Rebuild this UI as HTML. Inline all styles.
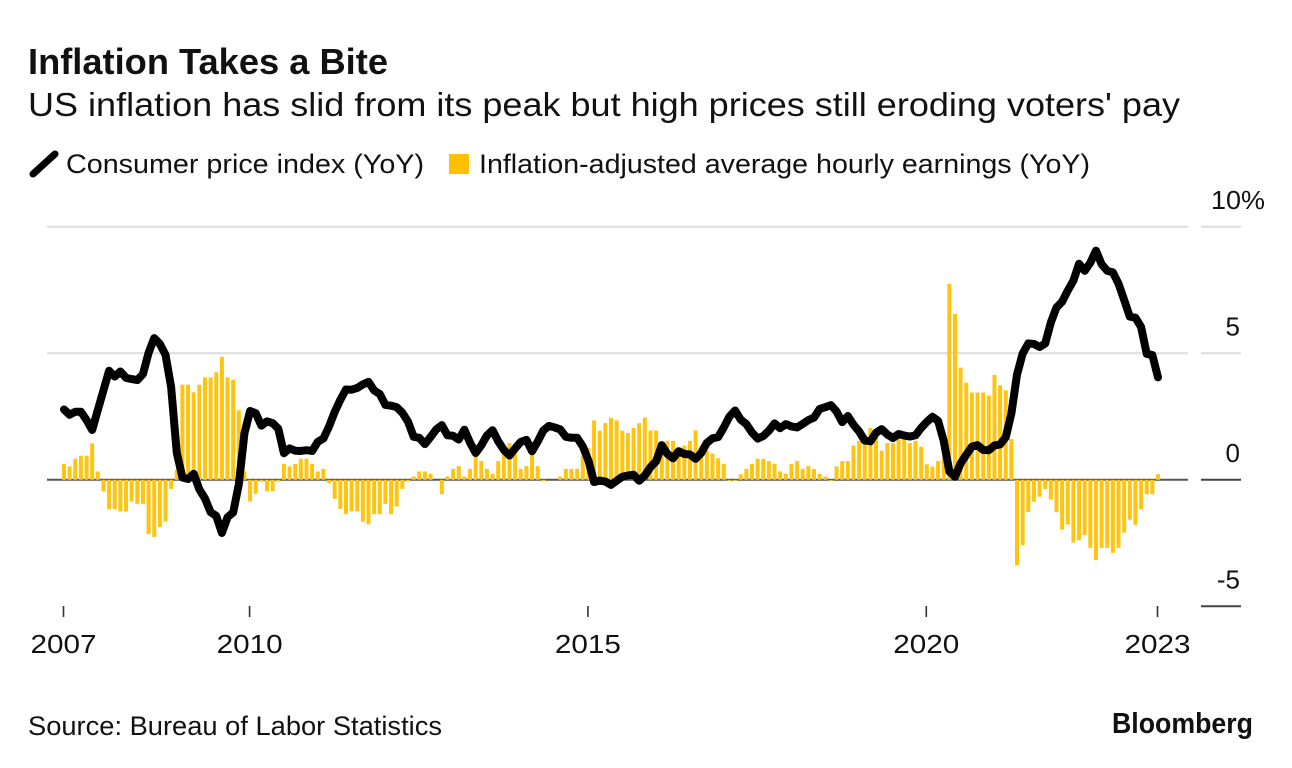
<!DOCTYPE html>
<html lang="en">
<head>
<meta charset="utf-8">
<title>Inflation Takes a Bite</title>
<style>
html,body{margin:0;padding:0;background:#fff;}
svg{display:block;font-family:"Liberation Sans",sans-serif;}
text{fill:#111;}
</style>
</head>
<body>
<svg id="chart" width="1292" height="768" viewBox="0 0 1292 768" xmlns="http://www.w3.org/2000/svg">
  <rect x="0" y="0" width="1292" height="768" fill="#fff"/>
  <text x="28" y="74" font-size="36" font-weight="700" textLength="360" lengthAdjust="spacingAndGlyphs">Inflation Takes a Bite</text>
  <text x="28" y="116" font-size="33" textLength="1152" lengthAdjust="spacingAndGlyphs">US inflation has slid from its peak but high prices still eroding voters' pay</text>

  <line x1="33" y1="174" x2="55" y2="154" stroke="#000" stroke-width="7" stroke-linecap="round"/>
  <text x="66" y="173" font-size="27" textLength="358" lengthAdjust="spacingAndGlyphs">Consumer price index (YoY)</text>
  <rect x="449" y="154" width="20" height="20" fill="#ffc000"/>
  <text x="479" y="173" font-size="27" textLength="611" lengthAdjust="spacingAndGlyphs">Inflation-adjusted average hourly earnings (YoY)</text>

  <g id="grid"></g>
  <g id="bars"></g>
  <path id="cpi" fill="none" stroke="#000" stroke-width="8" stroke-linejoin="round" stroke-linecap="round"/>
  <g id="yaxis"></g>
  <g id="xaxis"></g>

  <text x="28" y="735" font-size="27" textLength="414" lengthAdjust="spacingAndGlyphs">Source: Bureau of Labor Statistics</text>
  <text x="1112" y="733" font-size="29" font-weight="700" textLength="141" lengthAdjust="spacingAndGlyphs">Bloomberg</text>
</svg>
<script>
const cpiValues = [2.78,2.57,2.69,2.69,2.36,1.97,2.76,3.54,4.31,4.08,4.28,4.03,3.98,3.94,4.18,5.02,5.60,5.37,4.94,3.66,1.07,0.09,0.03,0.24,-0.38,-0.74,-1.28,-1.43,-2.10,-1.48,-1.29,-0.18,1.84,2.72,2.63,2.14,2.31,2.24,2.02,1.05,1.24,1.15,1.14,1.17,1.14,1.50,1.63,2.11,2.68,3.16,3.57,3.56,3.63,3.77,3.87,3.53,3.39,2.96,2.93,2.87,2.65,2.30,1.70,1.66,1.41,1.69,1.99,2.16,1.76,1.74,1.59,1.98,1.47,1.06,1.36,1.75,1.96,1.52,1.18,0.96,1.24,1.50,1.58,1.13,1.51,1.95,2.13,2.07,1.99,1.70,1.66,1.66,1.32,0.76,-0.09,-0.03,-0.07,-0.20,-0.04,0.12,0.17,0.20,-0.04,0.17,0.50,0.73,1.37,1.02,0.85,1.13,1.02,1.00,0.83,1.06,1.46,1.64,1.69,2.07,2.50,2.74,2.38,2.20,1.87,1.63,1.73,1.94,2.23,2.04,2.20,2.11,2.07,2.21,2.36,2.46,2.80,2.87,2.95,2.70,2.28,2.52,2.18,1.91,1.55,1.52,1.86,2.00,1.79,1.65,1.81,1.75,1.71,1.76,2.05,2.29,2.49,2.33,1.54,0.33,0.12,0.65,0.99,1.31,1.37,1.18,1.17,1.36,1.40,1.68,2.62,4.16,4.99,5.39,5.37,5.25,5.39,6.22,6.81,7.04,7.48,7.87,8.54,8.26,8.58,9.06,8.52,8.26,8.20,7.75,7.11,6.45,6.41,6.04,4.98,4.93,4.05];
const earningsValues = [0.63,0.53,0.83,0.95,0.95,1.44,0.33,-0.46,-1.16,-1.16,-1.25,-1.25,-0.86,-0.95,-0.95,-2.15,-2.26,-1.86,-1.65,-0.36,0.40,3.76,3.76,3.46,3.76,4.05,4.05,4.25,4.86,4.05,3.96,2.75,0.33,-0.86,-0.55,-0.07,-0.46,-0.46,-0.07,0.63,0.53,0.63,0.83,0.83,0.63,0.33,0.43,-0.13,-0.75,-1.15,-1.36,-1.25,-1.25,-1.66,-1.76,-1.36,-1.36,-0.95,-1.36,-1.05,-0.36,-0.07,0.13,0.33,0.33,0.24,0,-0.57,0.13,0.43,0.54,0.13,0.43,0.95,0.74,0.43,0.24,0.74,1.04,1.45,1.04,0.43,0.54,1.04,0.54,-0.07,0,0,0.13,0.43,0.43,0.43,0.95,1.25,2.35,1.94,2.24,2.44,2.35,1.94,1.85,2.05,2.24,2.46,1.95,1.95,1.45,1.54,1.54,1.24,1.35,1.54,1.95,1.35,1.15,1.04,0.85,0.63,-0.04,-0.04,0.22,0.43,0.63,0.83,0.83,0.74,0.63,0.33,0.24,0.63,0.74,0.43,0.54,0.43,0.24,0.13,-0.04,0.53,0.74,0.74,1.35,1.54,1.54,2.05,1.85,1.15,1.45,1.45,1.72,1.65,1.45,1.54,1.31,0.61,0.52,0.74,0.90,7.75,6.55,4.44,3.84,3.45,3.45,3.45,3.33,4.15,3.74,3.54,1.61,-3.38,-2.59,-1.28,-0.87,-0.67,-0.37,-0.78,-1.28,-1.97,-1.77,-2.48,-2.39,-2.19,-2.69,-3.18,-2.69,-2.69,-2.89,-2.69,-2.09,-1.58,-1.78,-1.17,-0.57,-0.57,0.22];
const xTickIndexes = [0,33,93,153,194];
const xTickLabels = ["2007","2010","2015","2020","2023"];
const yTickValues = [10,5,0,-5];
const yTickLabels = ["10%","5","0","-5"];

const NS = "http://www.w3.org/2000/svg";
function xScale(i){ return 64 + i * (1158 - 64) / 194; }
function yScale(v){ return 479.8 - v * 25.3; }
function make(tag, attrs, parent){
  const el = document.createElementNS(NS, tag);
  for (const k in attrs) el.setAttribute(k, attrs[k]);
  parent.appendChild(el);
  return el;
}

const grid = document.getElementById("grid");
const yaxis = document.getElementById("yaxis");
yTickValues.forEach(function(v, idx){
  const dark = v <= 0;
  const y = yScale(v);
  if (v !== -5) {
    const main = make("line", {x1:47, x2:1188, y1:y, y2:y, stroke: dark ? "#555" : "#dcdcdc", "stroke-width":2}, grid);
    
    
  }
  const stub = make("line", {x1:1201, x2:1241, y1:y, y2:y, stroke: dark ? "#444" : "#dcdcdc", "stroke-width":2}, grid);
  
  
  const label = make("text", {x:1240, y:y-18, "font-size":26, "text-anchor":"end"}, yaxis);
  
  
  label.textContent = yTickLabels[idx];
  if (v === 10) {
    label.setAttribute("x", 1211);
    label.setAttribute("text-anchor", "start");
    label.setAttribute("textLength", 54);
    label.setAttribute("lengthAdjust", "spacingAndGlyphs");
  }
});

const barsG = document.getElementById("bars");
earningsValues.forEach(function(v, i){
  const x = xScale(i);
  const y0 = yScale(0);
  const y1 = yScale(v);
  const r = make("rect", {x:x-2, y:Math.min(y0,y1), width:4, height:Math.abs(y1-y0), fill:"#ffc410"}, barsG);
  
  
});

document.getElementById("cpi").setAttribute("d", cpiValues.map(function(v, i){
  return (i ? "L" : "M") + xScale(i).toFixed(2) + " " + yScale(v).toFixed(2);
}).join(""));

const xaxis = document.getElementById("xaxis");
xTickIndexes.forEach(function(ti, idx){
  const x = xScale(ti) - 0.5;
  const t = make("line", {x1:x, x2:x, y1:606, y2:617, stroke:"#333", "stroke-width":1.6}, xaxis);
  
  
  const label = make("text", {x:x-33, y:653, "font-size":26, textLength:66, lengthAdjust:"spacingAndGlyphs"}, xaxis);
  
  
  label.textContent = xTickLabels[idx];
});
</script>
</body>
</html>
